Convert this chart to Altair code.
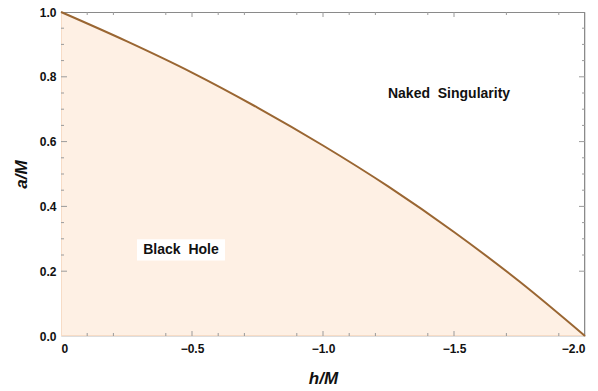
import altair as alt
import pandas as pd

# Extremality boundary a/M as a function of h/M
h_over_m = [0.0, -0.25, -0.5, -0.75, -1.0, -1.25, -1.5, -1.75, -2.0]
a_over_m = [1.0, 0.91, 0.813, 0.705, 0.588, 0.461, 0.321, 0.168, 0.0]

# Frame ticks
x_major = [0.0, -0.5, -1.0, -1.5, -2.0]
x_minor = [-0.1, -0.2, -0.4, -0.6, -0.7, -0.9, -1.1, -1.2, -1.4, -1.7, -1.9]
y_major = [0.2, 0.4, 0.6, 0.8]
y_minor = [0.25, 0.3, 0.35, 0.45, 0.5, 0.55, 0.65, 0.7, 0.75, 0.85, 0.9, 0.95]

# Region annotations (non-breaking spaces keep the wide word gap)
region_text = ["Black\u00a0\u00a0Hole", "Naked\u00a0\u00a0Singularity"]
region_h = [-0.458, -1.481]
region_a = [0.266, 0.748]

W, H = 524, 324
FILL = "#FEF0E4"
LINE = "#9A6632"
TICK = "#9a9a9a"
FONT = "Liberation Sans"

xs = alt.Scale(domain=[0, -2], nice=False, zero=False)
ys = alt.Scale(domain=[0, 1], nice=False, zero=False)

curve = pd.DataFrame({"h": h_over_m, "a": a_over_m})

x_axis = alt.Axis(
    values=x_major, labelExpr="datum.value == 0 ? '0' : format(datum.value, '.1f')",
    ticks=False, domain=False, grid=False, labelPadding=7,
    labelFont=FONT, labelFontSize=12, labelFontWeight="bold", labelColor="#111",
    title="h/M", titleFont=FONT, titleFontSize=17, titleFontStyle="italic",
    titleFontWeight="bold", titleColor="#111", titleX=W / 2, titleY=42,
    titleBaseline="middle", titleAlign="center",
)
y_axis = alt.Axis(
    values=[0, 0.2, 0.4, 0.6, 0.8, 1.0], format=".1f",
    ticks=False, domain=False, grid=False, labelPadding=5,
    labelFont=FONT, labelFontSize=12, labelFontWeight="bold", labelColor="#111",
    title="a/M", titleFont=FONT, titleFontSize=17, titleFontStyle="italic",
    titleFontWeight="bold", titleColor="#111", titleX=-40, titleY=H / 2,
    titleAngle=-90, titleBaseline="middle", titleAlign="center",
)

base = alt.Chart(curve)

area = base.mark_area(color=FILL, opacity=1, interpolate="monotone").encode(
    x=alt.X("h:Q", scale=xs, axis=x_axis),
    y=alt.Y("a:Q", scale=ys, axis=y_axis),
)

line = base.mark_line(color=LINE, strokeWidth=2, interpolate="monotone").encode(
    x=alt.X("h:Q", scale=xs),
    y=alt.Y("a:Q", scale=ys),
)

# Frame: top/right in gray, left/bottom under the filling in peach
frame = [
    alt.Chart(curve).mark_rule(color="#8a8a8a", strokeWidth=1).encode(
        x=alt.value(0), x2=alt.value(W), y=alt.value(0.5)),
    alt.Chart(curve).mark_rule(color="#8a8a8a", strokeWidth=1).encode(
        x=alt.value(W - 0.5), y=alt.value(0), y2=alt.value(H)),
    alt.Chart(curve).mark_rule(color="#F7DCC6", strokeWidth=1).encode(
        x=alt.value(0.5), y=alt.value(0), y2=alt.value(H)),
    alt.Chart(curve).mark_rule(color="#F7DCC6", strokeWidth=1).encode(
        x=alt.value(0), x2=alt.value(W), y=alt.value(H - 0.5)),
]


def xticks(values, length):
    df = pd.DataFrame({"v": values})
    bottom = alt.Chart(df).mark_rule(color=TICK, strokeWidth=1).encode(
        x=alt.X("v:Q", scale=xs), y=alt.value(H), y2=alt.value(H - length))
    top = alt.Chart(df).mark_rule(color=TICK, strokeWidth=1).encode(
        x=alt.X("v:Q", scale=xs), y=alt.value(0), y2=alt.value(length))
    return [bottom, top]


def yticks(values, length):
    df = pd.DataFrame({"v": values})
    left = alt.Chart(df).mark_rule(color=TICK, strokeWidth=1).encode(
        y=alt.Y("v:Q", scale=ys), x=alt.value(0), x2=alt.value(length))
    right = alt.Chart(df).mark_rule(color=TICK, strokeWidth=1).encode(
        y=alt.Y("v:Q", scale=ys), x=alt.value(W), x2=alt.value(W - length))
    return [left, right]


ticks = (xticks(x_major[1:-1], 5) + xticks(x_minor, 3)
         + yticks(y_major, 6) + yticks(y_minor, 3))

labels_df = pd.DataFrame({"text": region_text, "h": region_h, "a": region_a})

label_box = alt.Chart(labels_df).transform_filter(
    alt.datum.h > -1
).mark_point(
    shape="M-1,-0.24H1V0.24H-1Z", filled=True, color="white", opacity=1,
    size=88 * 88, strokeWidth=0,
).encode(x=alt.X("h:Q", scale=xs), y=alt.Y("a:Q", scale=ys))

label_text = alt.Chart(labels_df).mark_text(
    font=FONT, fontSize=14, fontWeight="bold", color="#111",
    align="center", baseline="middle",
).encode(x=alt.X("h:Q", scale=xs), y=alt.Y("a:Q", scale=ys), text="text:N")

chart = alt.layer(
    area, *frame, *ticks, line, label_box, label_text
).properties(
    width=W, height=H,
    autosize=alt.AutoSizeParams(type="none"),
    padding={"left": 61, "top": 12, "right": 13, "bottom": 55},
).configure_view(stroke=None).configure(background="white")

chart.save("out.html", embed_options={"renderer": "svg", "actions": False})
